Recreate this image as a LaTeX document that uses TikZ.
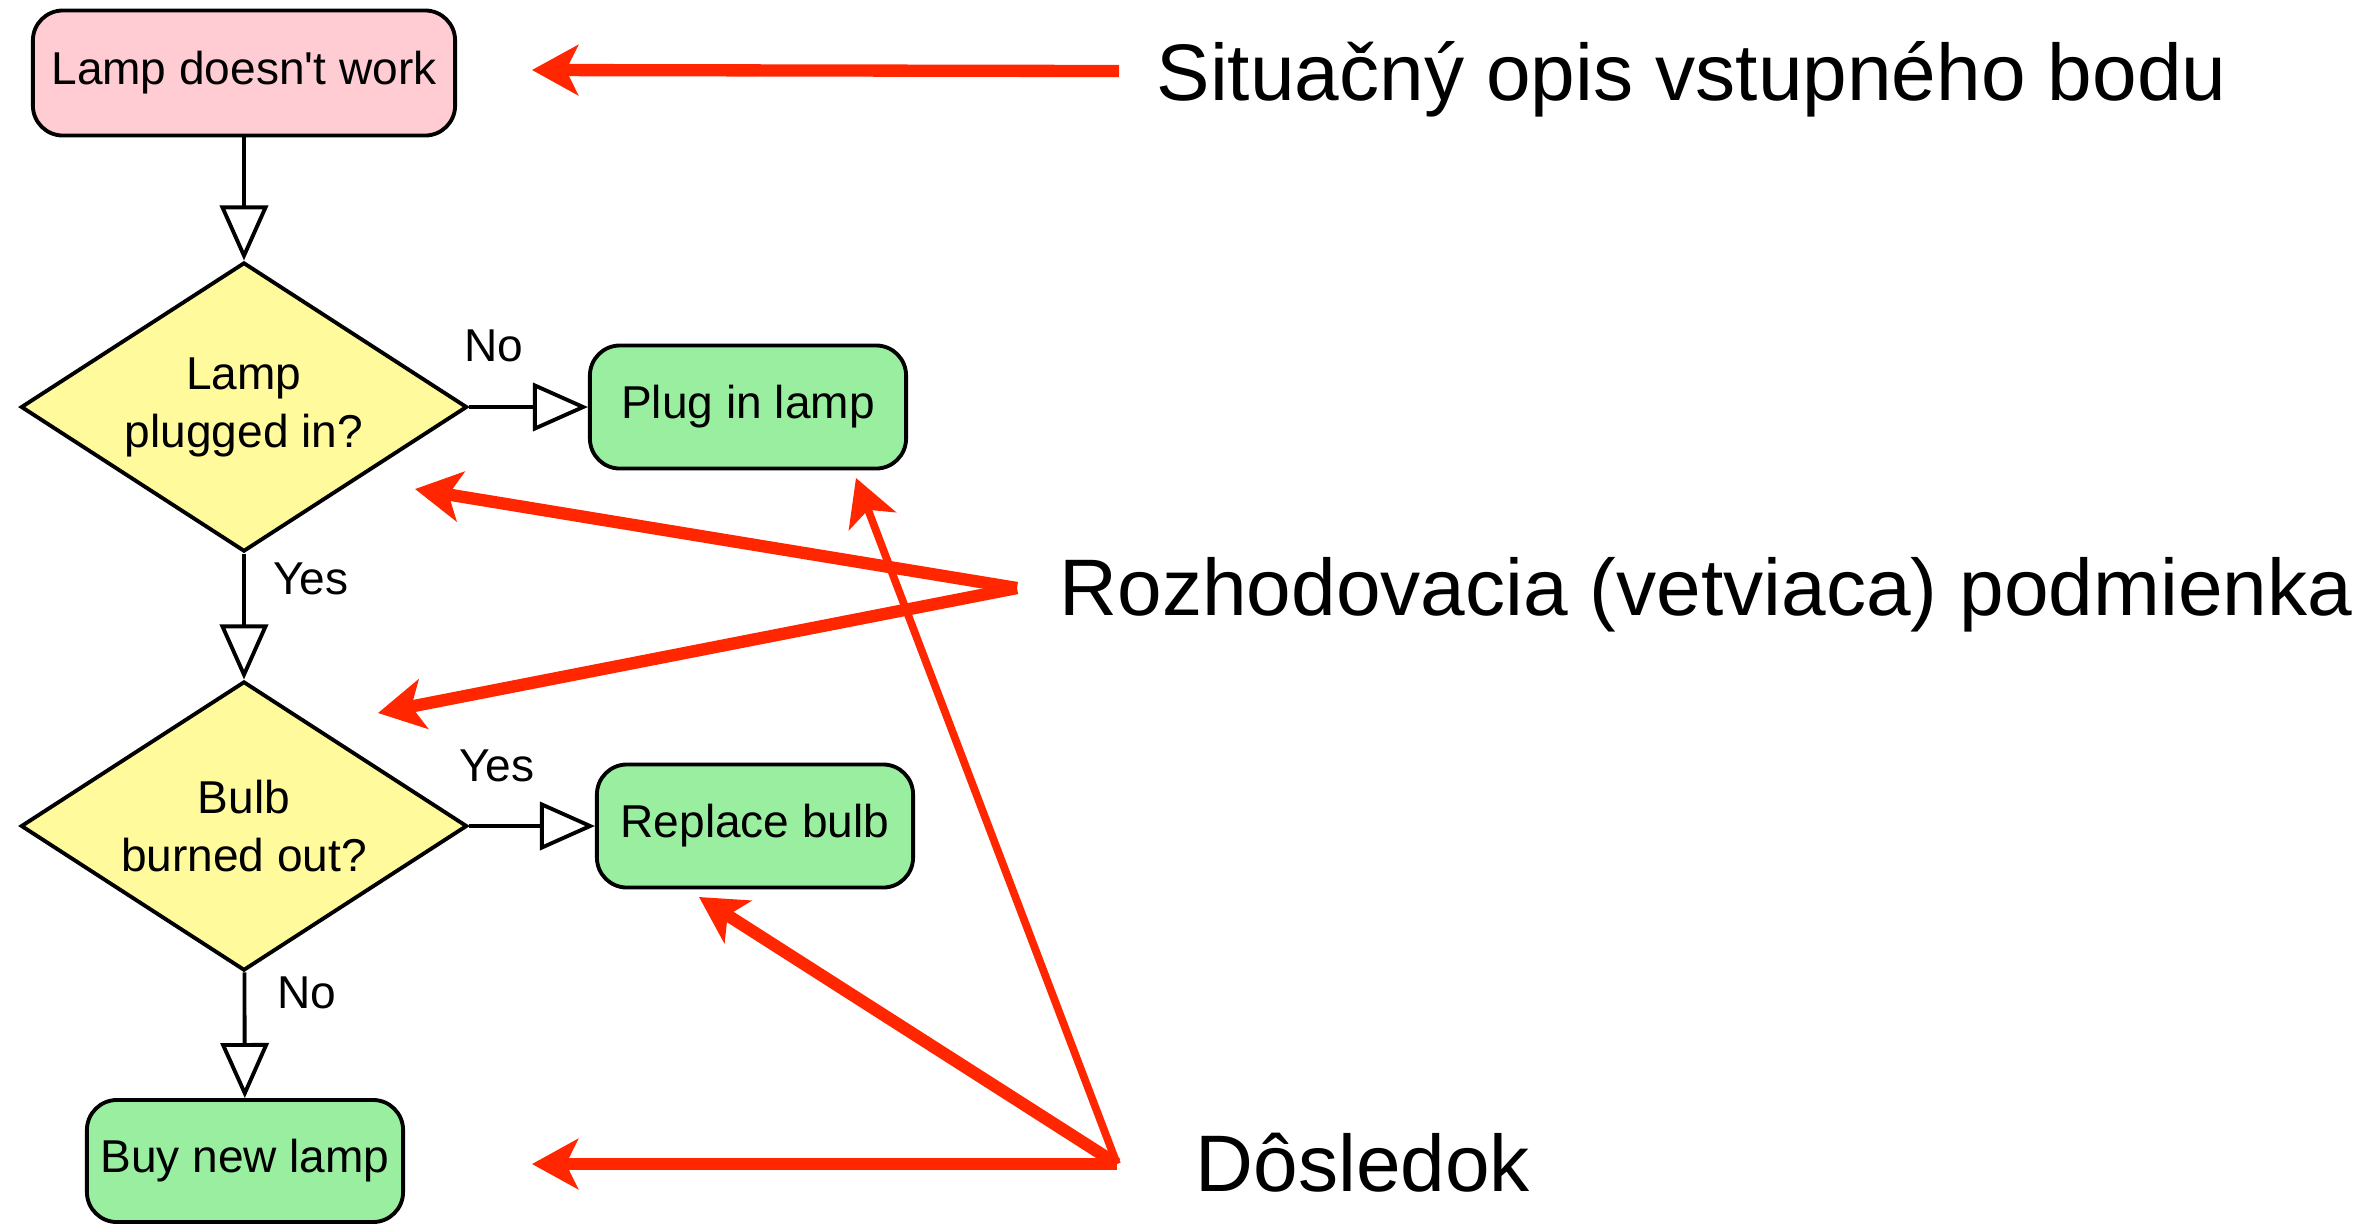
\documentclass[tikz,border=0pt]{standalone}
\usepackage{fontspec}
\setmainfont{Liberation Sans}
\usepackage{tikz}
\usetikzlibrary{shapes, arrows.meta, calc}

\definecolor{startpink}{RGB}{255,204,212}
\definecolor{endgreen}{RGB}{153,238,160}
\definecolor{askyellow}{RGB}{255,250,155}
\definecolor{markred}{RGB}{255,38,0}

\begin{document}
\begin{tikzpicture}[x=0.01cm,y=-0.01cm,
		box/.style={draw,line width=1.1pt,rounded corners=3mm,minimum width=3.16cm,minimum height=1.23cm,inner sep=0pt,font=\fontsize{13.1}{16}\selectfont},
		ask/.style={draw,diamond,shape aspect=1.55,line width=1.1pt,fill=askyellow,minimum width=4.46cm,minimum height=2.89cm,inner sep=0pt,align=center,font=\fontsize{13.1}{16.5}\selectfont},
		flow/.style={-{Triangle[open,length=5.5mm,width=4.8mm]},line width=1.1pt},
		answer/.style={inner sep=0pt,font=\fontsize{13.1}{16}\selectfont},
		note/.style={anchor=base west,inner sep=0pt,font=\fontsize{22.8}{27}\selectfont},
		hint/.style={-{Stealth[length=4.6mm,width=5mm,inset=1.2mm]},draw=markred,line width=3.5pt}]
		% page frame
		\useasboundingbox (0,0) rectangle (2377,1223);
		% flowchart
		\node[box,fill=startpink,minimum width=4.22cm,minimum height=1.25cm] (start) at (244,73) {Lamp doesn\textquotesingle t work};
		\node[ask] (plugged) at (244,407) {Lamp\\plugged in?};
		\node[box,fill=endgreen] (plugin) at (748,407) {Plug in lamp};
		\node[ask] (burned) at (244,826) {Bulb\\burned out?};
		\node[box,fill=endgreen] (replace) at (755,826) {Replace bulb};
		\node[box,fill=endgreen,minimum height=1.22cm] (buynew) at (245,1161) {Buy new lamp};
		\draw[flow] (start) -- (plugged);
		\draw[flow] (plugged) -- (plugin);
		\draw[flow] (plugged) -- (burned);
		\draw[flow] (burned) -- (replace);
		\draw[flow] (burned) -- (buynew);
		\node[answer] (nofirst) at (494,346) {No};
		\node[answer] (yesfirst) at (311,579) {Yes};
		\node[answer] (yessecond) at (497,766) {Yes};
		\node[answer] (nosecond) at (307,993) {No};
		% annotations
		\node[note] (entry) at (1156,100) {Situačný opis vstupného bodu};
		\node[note] (branch) at (1059,615) {Rozhodovacia (vetviaca) podmienka};
		\node[note] (result) at (1195,1191) {Dôsledok};
		\coordinate (entryfoot) at (1119,71);
		\coordinate (branchfoot) at (1017,588);
		\coordinate (resultfoot) at (1117,1164);
		\coordinate (entrytip) at (532,70);
		\coordinate (pluggedtip) at (415,489);
		\coordinate (burnedtip) at (378,713);
		\coordinate (plugintip) at (856,478);
		\coordinate (replacetip) at (699,897);
		\coordinate (buynewtip) at (532,1164);
		\draw[hint] (entryfoot) -- (entrytip);
		\draw[hint] (branchfoot) -- (pluggedtip);
		\draw[hint] (branchfoot) -- (burnedtip);
		\draw[hint,line width=2.2pt] (resultfoot) -- (plugintip);
		\draw[hint] (resultfoot) -- (replacetip);
		\draw[hint] (resultfoot) -- (buynewtip);
	\end{tikzpicture}
\end{document}
